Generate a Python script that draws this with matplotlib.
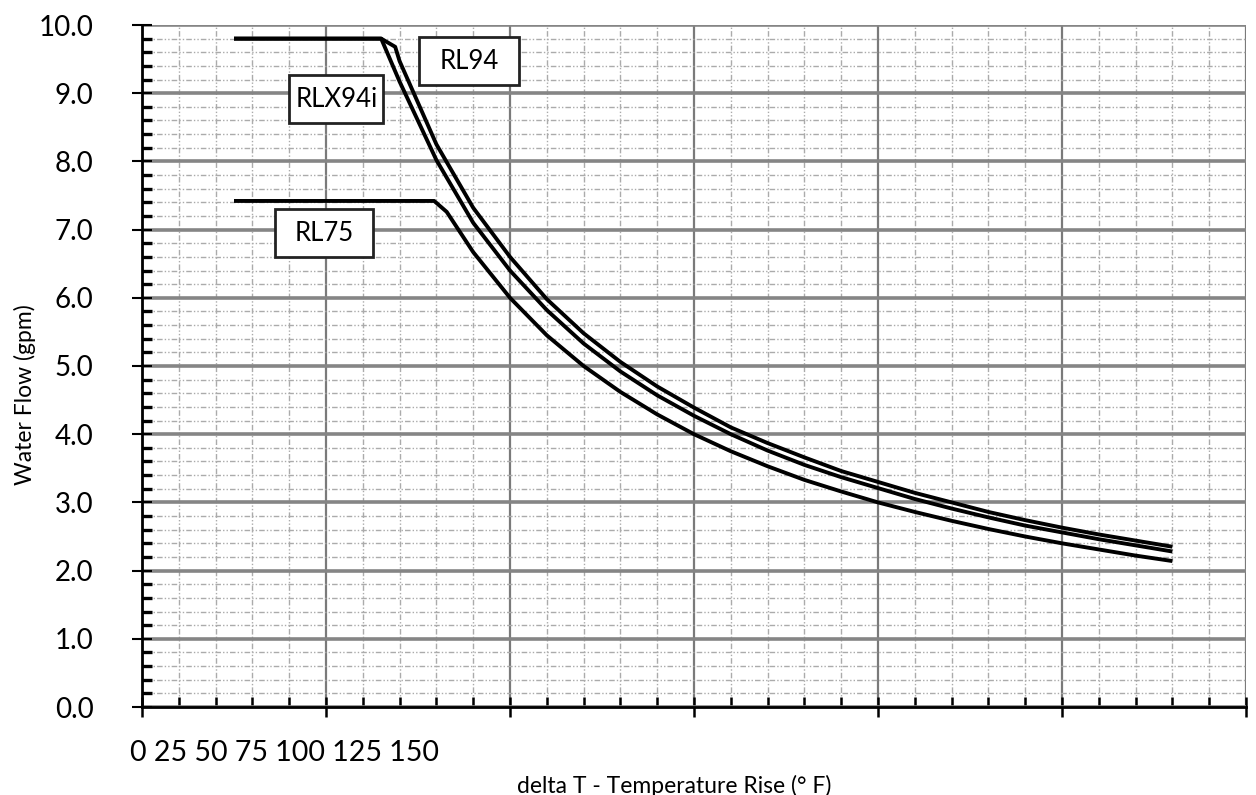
import matplotlib
matplotlib.use("Agg")
import matplotlib.pyplot as plt
from matplotlib.patches import Rectangle
from matplotlib.ticker import MultipleLocator, NullFormatter

plt.rcParams['font.family'] = ['Lato', 'DejaVu Sans']

# delta T (deg F) and water flow (gpm)
rl94_x = [12.5, 32.5, 34.4, 35, 40, 45, 50, 55, 60, 65, 70, 75, 80, 85, 90,
          95, 100, 105, 110, 115, 120, 125, 130, 135, 140]
rl94_y = [9.8, 9.8, 9.68, 9.47, 8.25, 7.32, 6.6, 5.98, 5.48, 5.06, 4.7, 4.39,
          4.1, 3.87, 3.66, 3.46, 3.3, 3.14, 3.0, 2.86, 2.74, 2.63, 2.53, 2.44, 2.35]

rlx94i_x = [12.5, 32.5, 35, 40, 45, 50, 55, 60, 65, 70, 75, 80, 85, 90,
            95, 100, 105, 110, 115, 120, 125, 130, 135, 140]
rlx94i_y = [9.8, 9.8, 9.17, 8.02, 7.1, 6.4, 5.82, 5.33, 4.92, 4.57, 4.27, 4.0,
            3.76, 3.55, 3.37, 3.21, 3.05, 2.91, 2.78, 2.66, 2.56, 2.46, 2.37, 2.28]

rl75_x = [12.5, 39.7, 41.4, 45, 50, 55, 60, 65, 70, 75, 80, 85, 90,
          95, 100, 105, 110, 115, 120, 125, 130, 135, 140]
rl75_y = [7.42, 7.42, 7.26, 6.67, 6.0, 5.45, 5.0, 4.62, 4.29, 4.0, 3.75, 3.53,
          3.33, 3.16, 3.0, 2.86, 2.73, 2.61, 2.5, 2.4, 2.31, 2.22, 2.14]

names = ['RL94', 'RLX94i', 'RL75']
# label boxes: centre x, centre y, width, height (data units)
boxes = [(44.4, 9.47, 13.6, 0.70), (26.4, 8.91, 12.8, 0.70), (24.7, 6.95, 13.3, 0.69)]

fig = plt.figure(figsize=(12.56, 7.95), dpi=100)
ax = fig.add_axes([142/1256, 1-707/795, (1246-142)/1256, (707-25)/795])

ax.set_xlim(0, 150)
ax.set_ylim(0, 10)
ax.xaxis.set_major_locator(MultipleLocator(25))
ax.xaxis.set_minor_locator(MultipleLocator(5))
ax.yaxis.set_major_locator(MultipleLocator(1))
ax.yaxis.set_minor_locator(MultipleLocator(0.2))
ax.xaxis.set_major_formatter(NullFormatter())
ax.yaxis.set_major_formatter(plt.FuncFormatter(lambda v, p: '%.1f' % v))

# grid
ax.grid(True, which='minor', color='#ababab', linewidth=1.0,
        linestyle=(0, (4, 1.5, 1, 1.5, 1, 1.5)))
ax.grid(True, which='major', axis='y', color='#858585', linewidth=2.6)
ax.grid(True, which='major', axis='x', color='#7a7a7a', linewidth=1.6)
ax.set_axisbelow(True)

for s in ['top', 'right']:
    ax.spines[s].set_visible(False)
for s in ['left', 'bottom']:
    ax.spines[s].set_linewidth(2)

ax.tick_params(axis='y', which='major', direction='inout', length=14, width=1.5,
               labelsize=20, pad=28)
ax.tick_params(axis='y', which='minor', direction='in', length=7, width=2.4)
ax.tick_params(axis='x', which='major', direction='inout', length=15, width=1.8)
ax.tick_params(axis='x', which='minor', direction='in', length=7, width=1.8)

ax.plot(rl94_x, rl94_y, color='black', linewidth=2.8, solid_capstyle='butt')
ax.plot(rlx94i_x, rlx94i_y, color='black', linewidth=2.8, solid_capstyle='butt')
ax.plot(rl75_x, rl75_y, color='black', linewidth=2.8, solid_capstyle='butt')

for name, (cx, cy, w, h) in zip(names, boxes):
    ax.add_patch(Rectangle((cx - w/2, cy - h/2), w, h, facecolor='white',
                           edgecolor='#222222', linewidth=2, zorder=5))
    ax.text(cx, cy, name, ha='center', va='center', fontsize=18.5, zorder=6)

fig.text(284/1256, 1-753/795, '0 25 50 75 100 125 150', ha='center', va='center',
         fontsize=20.5)
fig.text(674/1256, 1-786/795, 'delta T - Temperature Rise (\u00b0 F)', ha='center',
         va='center', fontsize=16.5)
fig.text(25/1256, 1-395/795, 'Water Flow (gpm)', ha='center', va='center',
         rotation=90, fontsize=16.5)

fig.savefig('out.png', dpi=100)
